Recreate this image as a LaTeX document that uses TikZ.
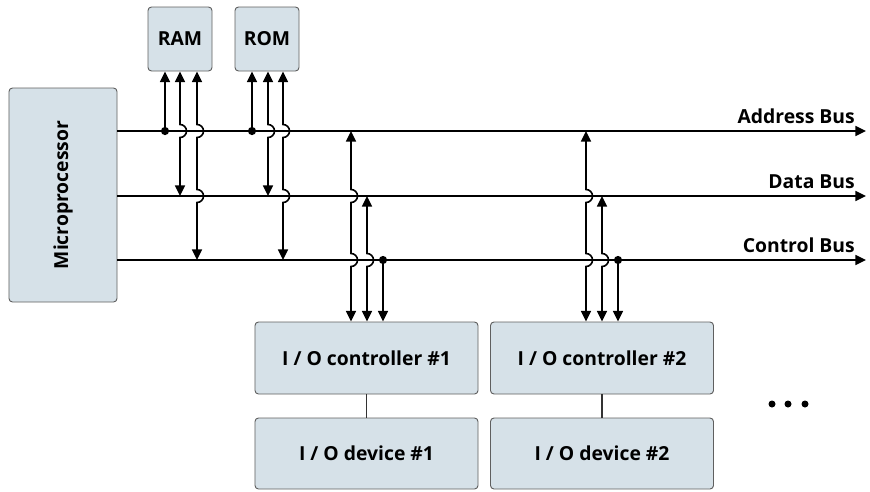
\documentclass[tikz,border=0pt]{standalone}
\usepackage{fontspec}
\setmainfont{Open Sans}
\usepackage{graphicx}
\usepackage{tikz}
\usetikzlibrary{positioning}
\usetikzlibrary{arrows.meta}
\usetikzlibrary{calc}
\definecolor{boxfill}{RGB}{214,225,232}
\definecolor{boxline}{RGB}{95,95,95}
\tikzstyle{unit}=[rectangle,rounded corners=3pt,draw=boxline,fill=boxfill,line width=0.8pt,inner sep=0pt,font=\fontsize{16.5}{20}\selectfont\bfseries]
\tikzstyle{bus} = [draw,line width=1.4pt,->]
\tikzstyle{link} = [draw,line width=1.4pt]
\tikzstyle{thinlink} = [draw,line width=0.9pt,black!80]
\tikzstyle{buslabel} = [anchor=base east,inner sep=0pt,font=\fontsize{16.5}{20}\selectfont\bfseries]
\tikzstyle{junction}=[circle,fill=black,inner sep=0pt,minimum size=7pt]
\tikzset{>={Triangle[length=9pt,width=8.5pt]}}

\begin{document}
\begin{tikzpicture}[x=0.03cm,y=-0.03cm]

  \def\r{6.5};
  \useasboundingbox (0,0) rectangle (870,491);

  % processor and memories
  \node[unit,minimum width=3.24cm,minimum height=6.42cm] (mp) at (63,195) {\rotatebox{90}{Microprocessor}};
  \foreach \name/\x in {RAM/180, ROM/267}
     \node[unit,minimum size=1.92cm] (\name) at (\x,39) {\name};

  % i/o controllers and devices
  \foreach \n/\x in {1/366.5, 2/602}{
     \node[unit,minimum width=6.69cm,minimum height=2.16cm] (ctrl\n) at (\x,358) {I / O controller \#\n};
     \node[unit,minimum width=6.69cm,minimum height=2.13cm] (dev\n) at (\x,453.5) {I / O device \#\n};
     \path[thinlink] (ctrl\n) -- (dev\n);
  }

  % buses
  \foreach \name/\y/\label in {addr/131/Address Bus, data/196/Data Bus, cont/260/Control Bus}{
     \coordinate (\name end) at (866,\y);
     \path[bus] (mp.east |- \name end) -- (\name end);
     \node[buslabel] (\name lbl) at (855,\y-8) {\label};
  }

  % memory lines
  \foreach \m/\xa/\xb/\xc in {RAM/165/180/197, ROM/252/268/283}{
     \node[junction] (\m dot) at (\xa,131) {};
     \path[link,<-] (\m.south -| \m dot) -- (\m dot.center);
     \coordinate (\m d) at (\xb,196);
     \path[link,<->] (\m.south -| \m d) -- (\xb,131-\r) arc[start angle=-90,end angle=90,radius=\r] -- (\m d);
     \coordinate (\m c) at (\xc,260);
     \path[link,<->] (\m.south -| \m c) -- (\xc,131-\r) arc[start angle=-90,end angle=90,radius=\r]
        -- (\xc,196-\r) arc[start angle=-90,end angle=90,radius=\r] -- (\m c);
  }

  % i/o lines
  \foreach \n/\xa/\xb/\xc in {1/351/367/383, 2/586/602/618}{
     \coordinate (io\n a) at (\xa,131);
     \path[link,<->] (io\n a) -- (\xa,196-\r) arc[start angle=-90,end angle=90,radius=\r]
        -- (\xa,260-\r) arc[start angle=-90,end angle=90,radius=\r] -- (ctrl\n.north -| io\n a);
     \coordinate (io\n b) at (\xb,196);
     \path[link,<->] (io\n b) -- (\xb,260-\r) arc[start angle=-90,end angle=90,radius=\r] -- (ctrl\n.north -| io\n b);
     \node[junction] (io\n dot) at (\xc,260) {};
     \path[link,->] (io\n dot.center) -- (ctrl\n.north -| io\n dot);
  }

  \foreach \x in {772,788,805}
     \fill (\x,404) circle (3.5);

\end{tikzpicture}
\end{document}
